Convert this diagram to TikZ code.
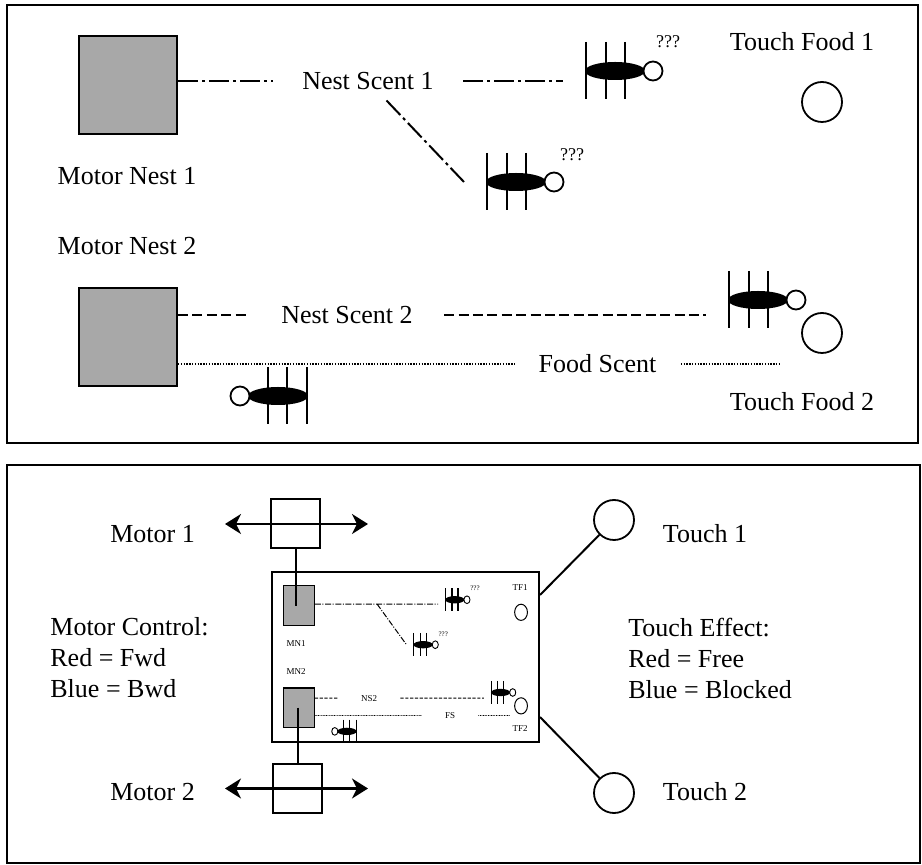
\documentclass[tikz,border=0pt]{standalone}
\usepackage{fontspec}
\setmainfont{Liberation Serif}
\usetikzlibrary{arrows.meta, positioning}

\definecolor{NestGrey}{RGB}{168, 168, 168}

\tikzset{
  panel/.style={draw, line width=1.2pt},
  nest/.style={rectangle, draw, fill=NestGrey, line width=1pt, minimum size=49pt, inner sep=0pt},
  food/.style={circle, draw, line width=0.9pt, minimum size=20pt, inner sep=0pt},
  motor/.style={rectangle, draw, line width=1pt, minimum size=24.5pt, inner sep=0pt},
  txt/.style={font=\fontsize{13}{15.5}\selectfont, inner sep=0pt},
  scentlbl/.style={font=\fontsize{13}{15.5}\selectfont, inner xsep=14.5pt, inner ysep=3pt},
  minitxt/.style={font=\fontsize{4.5}{5}\selectfont, inner sep=0pt},
  query/.style={font=\fontsize{9}{10}\selectfont, inner sep=0pt},
  ns1line/.style={line width=1pt, dash pattern=on 10pt off 2pt on 1.5pt off 2pt},
  ns2line/.style={line width=1pt, dash pattern=on 5pt off 2.2pt},
  fsline/.style={line width=0.7pt, dash pattern=on 0.7pt off 0.7pt},
  wire/.style={line width=1pt},
  axle/.style={line width=1.1pt, {Stealth[length=8pt, width=10pt, inset=2.5pt]}-{Stealth[length=8pt, width=10pt, inset=2.5pt]}},
  leg/.style={line width=1pt},
  antline/.style={line width=0.9pt},
  ant/.pic={
    \draw[leg] (-29,-29) -- (-29,28) (-9,-29) -- (-9,28) (10,-29) -- (10,28);
    \fill (0,0) ellipse [x radius=30, y radius=9];
    \draw[antline, fill=white] (38,0) circle [radius=9.5];
    \coordinate (-head) at (38,0);
    \coordinate (-tail) at (-52,0);
  },
}

\begin{document}
\begin{tikzpicture}[x=0.5pt, y=-0.5pt]
\useasboundingbox (0,0) rectangle (922,865);

% upper panel: the arena
\draw[panel] (7,5) rectangle (918,443);

\node[nest] (mn1) at (128,85.5) {};
\node[txt] (mn1txt) at (127,176) {Motor Nest 1};
\node[txt] (mn2txt) at (127,246) {Motor Nest 2};
\node[nest] (mn2) at (128,337.5) {};

\node[scentlbl] (ns1) at (368,81) {Nest Scent 1};
\node[scentlbl, inner xsep=15.5pt] (ns2) at (347,315) {Nest Scent 2};
\node[scentlbl, inner xsep=12pt] (fs) at (597.5,364) {Food Scent};
\coordinate (fsend) at (779,364);

\node[txt] (tf1txt) at (802,42) {Touch Food 1};
\node[food] (tf1) at (822,102) {};
\node[food] (tf2) at (822,333) {};
\node[txt] (tf2txt) at (802,402) {Touch Food 2};

\pic (a1) at (615,71) {ant};
\pic (a2) at (516,182) {ant};
\pic[xscale=-1] (a3) at (278,396) {ant};
\pic (a4) at (758,300) {ant};
\node[query] at ([xshift=7.5pt,yshift=14.5pt]a1-head) {???};
\node[query] at ([xshift=9pt,yshift=13.5pt]a2-head) {???};

% scent trails
\draw[ns1line] (mn1.east |- ns1) -- (ns1);
\draw[ns1line] (ns1) -- (ns1 -| a1-tail);
\draw[ns1line, shorten <=3pt] (ns1) -- (a2-tail);
\draw[ns2line] (mn2.east |- ns2) -- (ns2);
\draw[ns2line] (ns2) -- (ns2 -| a4-tail);
\draw[fsline] (mn2.east |- fs) -- (fs);
\draw[fsline] (fs) -- (fsend);

% lower panel: the robot
\draw[panel] (7,465) rectangle (920,863);

\node[draw, line width=1pt, minimum width=133.5pt, minimum height=85pt, inner sep=0pt] (minimap) at (405.5,657) {};

\begin{scope}[shift={(258,571)}, xscale=0.32, yscale=0.405,
    leg/.style={line width=0.6pt}, antline/.style={line width=0.45pt}]
  \node[nest, transform shape, line width=0.7pt] (mmn1) at (128,85.5) {};
  \node[nest, transform shape, line width=0.7pt] (mmn2) at (128,337.5) {};
  \node[minitxt] (mmn1txt) at (119,180) {MN1};
  \node[minitxt] (mmn2txt) at (119,247) {MN2};
  \node[minitxt, inner xsep=11.5pt] (mns2) at (347,314) {NS2};
  \node[minitxt, inner xsep=11.5pt] (mfs) at (600,357) {FS};
  \node[minitxt] (mtf1txt) at (819,42) {TF1};
  \node[minitxt] (mtf2txt) at (819,388) {TF2};
  \node[food, transform shape, line width=0.5pt] (mtf1) at (822,102) {};
  \node[food, transform shape, line width=0.5pt] (mtf2) at (822,333) {};
  \coordinate (mns1) at (372,81.5);
  \coordinate (mfsend) at (787,357);

  \pic[transform shape] (ma1) at (615,71) {ant};
  \pic[transform shape] (ma2) at (516,182) {ant};
  \pic[xscale=-1, transform shape] (ma3) at (278,396) {ant};
  \pic[transform shape] (ma4) at (758,300) {ant};

  \draw[line width=0.5pt, dash pattern=on 3pt off 0.8pt on 0.5pt off 0.8pt]
    (mmn1.east |- mns1) -- (mns1 -| ma1-tail) (mns1) -- (ma2-tail);
  \draw[line width=0.5pt, dash pattern=on 1.6pt off 0.8pt] (mmn2.east |- mns2) -- (mns2);
  \draw[line width=0.5pt, dash pattern=on 1.6pt off 0.8pt] (mns2) -- (mns2 -| ma4-tail);
  \draw[line width=0.4pt, dash pattern=on 0.4pt off 0.4pt] (mmn2.east |- mfs) -- (mfs);
  \draw[line width=0.4pt, dash pattern=on 0.4pt off 0.4pt] (mfs) -- (mfsend);
\end{scope}
\node[minitxt, font=\fontsize{3.5}{4}\selectfont] at ([xshift=4pt,yshift=6pt]ma1-head) {???};
\node[minitxt, font=\fontsize{3.5}{4}\selectfont] at ([xshift=4pt,yshift=5pt]ma2-head) {???};

% motors and touch sensors
\node[motor] (m1) at (295.5,524) {};
\node[motor] (m2) at (297.5,788.5) {};
\draw[axle] ([xshift=-35.25pt]m1.center) -- ([xshift=36.25pt]m1.center);
\draw[axle] ([xshift=-36.25pt]m2.center) -- ([xshift=35.25pt]m2.center);
\draw[wire] (m1) -- (m1 |- mmn1);
\draw[wire] (m2 |- mmn2) -- (m2);

\node[food] (t1) at (614,520) {};
\node[food] (t2) at (614,793) {};
\draw[wire] ([yshift=31pt]minimap.east) -- (t1);
\draw[wire] ([yshift=-30pt]minimap.east) -- (t2);

\node[txt] (m1txt) at (152.5,534) {Motor 1};
\node[txt] (m2txt) at (152.5,792) {Motor 2};
\node[txt] (t1txt) at (705,534) {Touch 1};
\node[txt] (t2txt) at (705,792) {Touch 2};
\node[txt, align=left, anchor=west] (mctl) at (50,658) {Motor Control:\\Red = Fwd\\Blue = Bwd};
\node[txt, align=left, anchor=west] (teff) at (628,658) {Touch Effect:\\Red = Free\\Blue = Blocked};
\end{tikzpicture}
\end{document}
